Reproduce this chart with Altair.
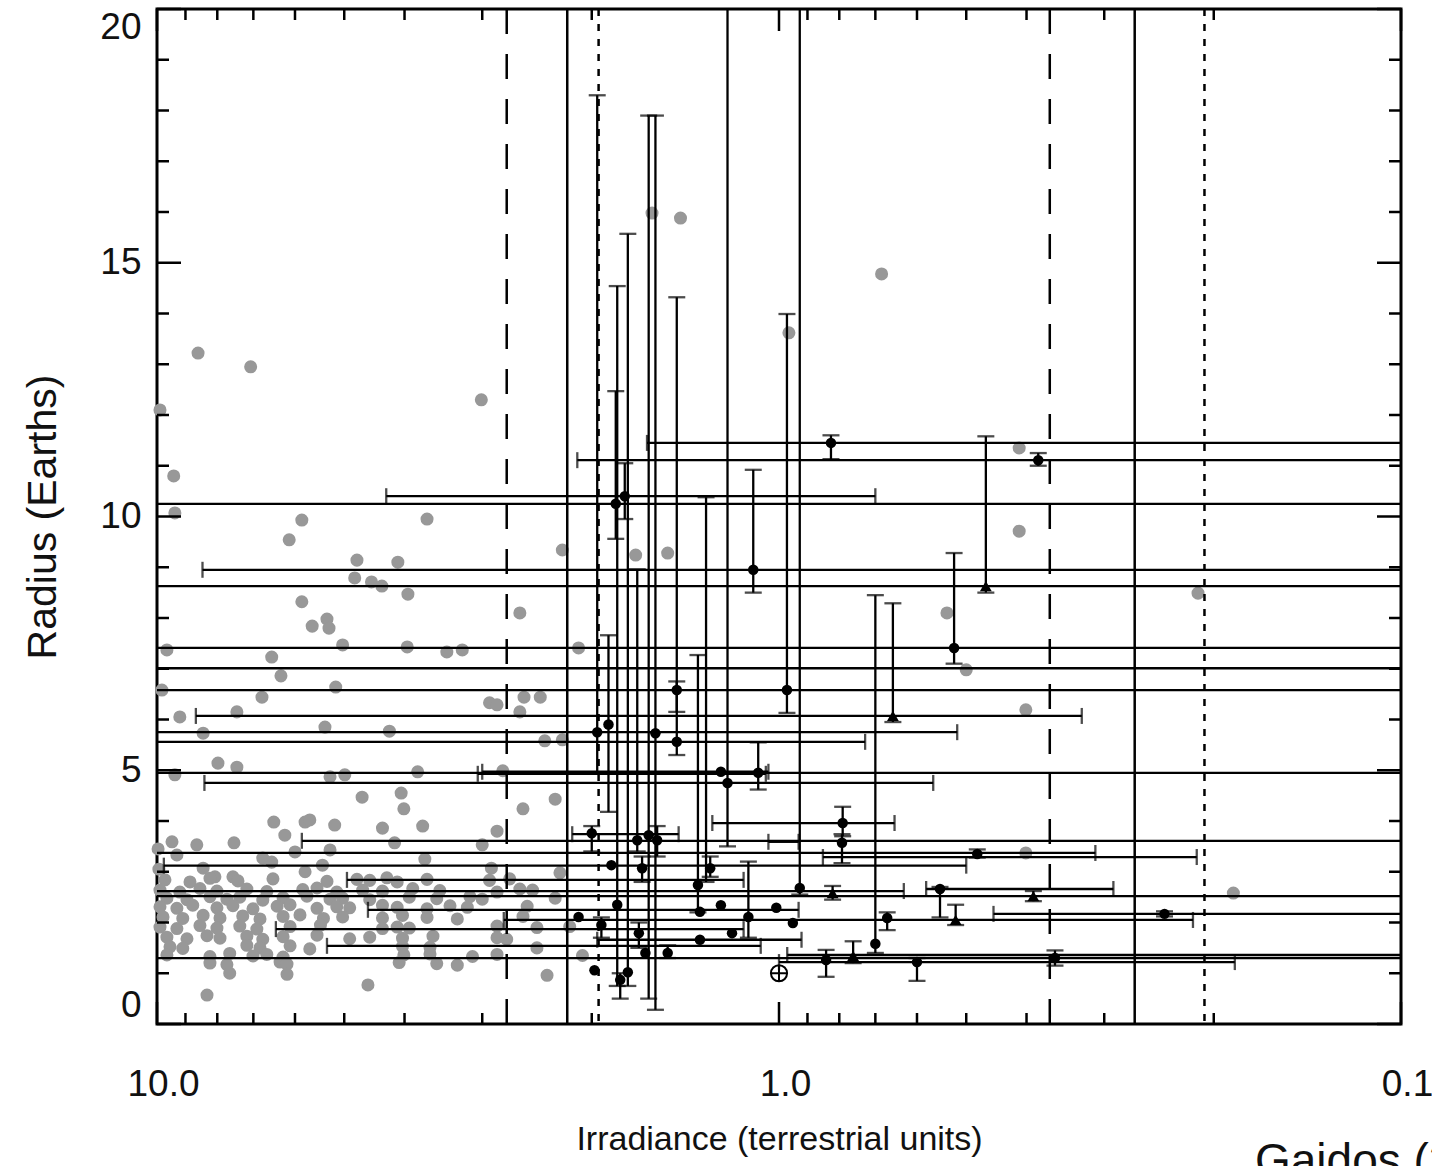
import altair as alt
import pandas as pd

# ---------------- data (irradiance in terrestrial units, radius in Earth radii) ----------------
gray_upper = [
    (9.89, 12.10), (9.40, 10.80), (9.36, 10.07), (8.59, 13.22), (7.07, 12.95), (3.01, 12.30),
    (5.85, 9.93), (3.68, 9.95), (6.13, 9.54), (4.77, 9.14), (4.10, 9.10), (4.81, 8.79),
    (4.52, 8.71), (4.35, 8.63), (3.95, 8.47), (5.85, 8.32), (2.61, 8.10), (5.63, 7.84),
    (5.33, 7.98), (5.29, 7.80), (5.03, 7.47), (3.96, 7.43), (3.23, 7.37), (9.64, 7.37),
    (2.10, 7.41), (2.23, 9.34), (1.70, 9.24), (1.51, 9.28), (0.964, 13.62), (1.60, 15.98),
    (1.44, 15.88), (0.684, 14.78), (0.411, 11.35), (0.411, 9.71), (0.537, 8.10), (0.212, 8.49),
    (0.500, 6.98), (0.401, 6.19), (0.186, 2.58), (0.401, 3.37), (9.82, 6.58), (9.19, 6.05),
    (8.43, 5.73), (7.44, 6.15), (6.78, 6.44), (6.32, 6.86), (6.54, 7.23), (5.16, 6.64),
    (5.37, 5.85), (4.23, 5.77), (7.98, 5.14), (7.44, 5.06), (9.36, 4.91), (5.27, 4.87),
    (4.99, 4.91), (3.81, 4.97), (3.42, 7.33), (2.92, 6.33), (2.84, 6.29), (2.57, 6.44),
    (2.42, 6.44), (2.23, 5.60), (2.38, 5.58), (2.78, 4.99), (2.61, 6.15),
]

gray_sparse_mid = [
    (4.68, 4.47), (4.05, 4.55), (4.01, 4.24), (6.49, 3.98), (5.78, 3.98), (5.68, 4.02),
    (5.18, 3.92), (6.23, 3.72), (4.34, 3.86), (3.74, 3.90), (2.58, 4.24), (2.29, 4.43),
    (2.84, 3.80), (9.46, 3.59), (8.63, 3.53), (7.52, 3.57), (4.15, 3.57), (3.00, 3.53),
    (9.29, 3.33), (6.00, 3.39), (5.27, 3.43), (3.71, 3.25), (6.76, 3.27), (6.54, 3.19),
    (8.43, 3.07), (8.07, 2.90), (7.55, 2.90), (5.78, 3.00), (5.42, 3.13), (2.90, 3.07),
    (2.25, 2.98), (9.96, 3.45), (9.93, 3.05),
]

gray_band_upper = [
    (9.71, 2.84), (8.85, 2.80), (8.22, 2.87), (7.41, 2.82), (6.51, 2.86), (5.33, 2.81),
    (4.77, 2.85), (4.55, 2.83), (4.27, 2.88), (4.11, 2.80), (3.68, 2.85), (2.92, 2.83), (2.71, 2.86),
    (9.89, 2.64), (9.19, 2.60), (8.53, 2.67), (8.01, 2.62), (7.17, 2.66), (6.66, 2.61),
    (5.83, 2.65), (5.53, 2.68), (5.14, 2.60), (4.67, 2.64), (4.34, 2.62), (3.88, 2.67),
    (3.51, 2.63), (2.84, 2.60), (2.61, 2.66), (2.49, 2.64),
    (9.64, 2.48), (8.95, 2.45), (8.22, 2.51), (7.72, 2.46), (7.36, 2.50), (6.76, 2.44),
    (6.27, 2.49), (5.74, 2.52), (5.27, 2.46), (5.03, 2.48), (4.55, 2.45), (3.93, 2.50),
    (3.55, 2.47), (3.14, 2.51), (3.00, 2.46), (2.29, 2.48),
]

gray_band_middle = [
    (9.89, 2.31), (9.29, 2.28), (8.76, 2.34), (8.01, 2.29), (7.55, 2.33), (7.01, 2.27),
    (6.41, 2.32), (6.11, 2.35), (5.53, 2.28), (5.14, 2.31), (4.90, 2.29), (4.34, 2.34),
    (4.11, 2.30), (3.68, 2.27), (3.38, 2.33), (3.17, 2.30), (2.54, 2.32),
    (9.78, 2.11), (9.09, 2.08), (8.43, 2.14), (7.92, 2.09), (7.28, 2.13), (6.83, 2.07),
    (6.27, 2.12), (5.89, 2.15), (5.40, 2.08), (5.03, 2.11), (4.34, 2.09), (4.03, 2.14),
    (3.68, 2.10), (3.29, 2.07), (2.58, 2.12),
    (9.89, 1.91), (9.29, 1.88), (8.53, 1.94), (8.01, 1.89), (7.36, 1.93), (6.91, 1.87),
    (6.11, 1.92), (5.46, 1.95), (4.34, 1.88), (4.11, 1.91), (3.93, 1.89), (2.84, 1.93),
    (2.45, 1.90), (2.17, 1.92),
]

gray_band_lower = [
    (9.64, 1.71), (8.95, 1.68), (8.31, 1.74), (7.92, 1.69), (7.17, 1.73), (6.76, 1.67),
    (6.27, 1.72), (5.53, 1.75), (4.90, 1.68), (4.55, 1.71), (4.03, 1.69), (3.60, 1.73),
    (2.84, 1.70), (2.74, 1.67),
    (9.53, 1.52), (9.09, 1.49), (7.17, 1.55), (6.83, 1.50), (6.11, 1.54), (5.68, 1.48),
    (4.03, 1.53), (3.64, 1.51), (2.45, 1.50),
    (9.64, 1.36), (8.22, 1.33), (7.64, 1.39), (7.01, 1.34), (6.66, 1.37), (6.27, 1.32),
    (4.01, 1.36), (3.64, 1.38), (3.11, 1.33), (2.84, 1.37), (2.07, 1.35),
    (8.22, 1.20), (7.72, 1.17), (6.34, 1.22), (6.18, 1.18), (4.08, 1.21), (3.55, 1.19), (3.29, 1.16),
    (7.64, 1.00), (6.18, 0.98), (2.36, 0.96), (8.31, 0.57), (4.58, 0.77),
]

# black points: (irradiance, radius)
kepler_circles = [
    (0.825, 11.45), (0.383, 11.11), (1.77, 10.40), (1.83, 10.25), (1.10, 8.95), (0.523, 7.41),
    (0.971, 6.58), (1.46, 6.58), (1.46, 5.56), (1.96, 5.75), (1.35, 2.74), (1.21, 4.75),
    (1.24, 4.97), (1.08, 4.95), (0.926, 2.68), (0.70, 1.58), (0.79, 3.96), (0.792, 3.57),
    (1.57, 3.62), (0.48, 3.35), (1.66, 3.07), (0.551, 2.66), (0.24, 2.17), (0.67, 2.09),
    (0.95, 1.99), (0.36, 1.30), (0.60, 1.22), (0.84, 1.26), (2.00, 3.76), (1.93, 1.95),
    (1.68, 1.79), (1.34, 1.66), (1.75, 1.02), (1.82, 2.35), (1.58, 5.73), (1.62, 3.72),
    (1.29, 3.07), (1.24, 2.34), (1.12, 2.11), (1.19, 1.79), (1.01, 2.29), (1.51, 1.40),
    (1.64, 1.40), (1.86, 3.13), (2.10, 2.11), (1.69, 3.62), (1.34, 2.21), (1.98, 1.06),
    (1.80, 0.87), (1.88, 5.90),
]
kepler_triangles = [
    (0.465, 8.63), (0.656, 6.07), (0.39, 2.52), (0.82, 2.58), (0.52, 2.05), (0.76, 1.34),
]

# horizontal error bars: (radius, irradiance upper end, irradiance lower end)
xerr_bars = [
    (11.45, 1.63, 0.05), (11.11, 2.11, 0.05), (10.40, 4.28, 0.70), (10.25, 20, 0.05),
    (8.95, 8.45, 0.05), (8.63, 20, 0.05), (7.41, 20, 0.05), (6.07, 8.66, 0.326),
    (6.58, 20, 0.05), (5.56, 20, 0.727), (5.75, 20, 0.517), (7.01, 20, 0.05),
    (2.62, 20, 0.63), (4.75, 8.39, 0.565), (4.97, 3.0, 1.04), (4.93, 3.05, 1.05),
    (4.95, 20, 0.05), (3.96, 1.28, 0.652), (3.59, 1.04, 0.93), (3.61, 5.85, 0.05),
    (3.74, 2.15, 1.45), (3.37, 20, 0.31), (3.29, 0.85, 0.213), (3.12, 9.75, 0.50),
    (2.84, 4.95, 1.14), (2.66, 0.58, 0.29), (2.52, 20, 0.05), (2.25, 4.58, 0.93),
    (2.17, 0.452, 0.05), (2.05, 2.77, 0.216), (1.30, 20, 0.05), (1.22, 1.0, 0.185),
    (1.36, 0.97, 0.05), (1.87, 6.44, 1.14), (1.54, 5.33, 1.07), (1.66, 1.96, 0.92),
]

# vertical error bars: (irradiance, radius low, radius high)
yerr_bars = [
    (0.825, 11.13, 11.60), (0.383, 11.0, 11.25), (1.77, 9.95, 11.05), (1.83, 9.56, 12.47),
    (1.10, 8.50, 10.92), (0.465, 8.50, 11.58), (0.523, 7.10, 9.28), (0.656, 5.95, 8.29),
    (0.971, 6.13, 13.99), (1.46, 6.15, 14.32), (1.46, 5.30, 6.75), (1.96, 4.95, 18.30),
    (1.31, 2.8, 10.38), (1.35, 2.2, 7.27), (1.21, 3.5, 25), (1.08, 4.62, 5.55),
    (0.926, 2.55, 25), (0.70, 1.40, 8.45), (0.79, 3.70, 4.28), (0.792, 3.17, 3.74),
    (1.57, 3.3, 3.9), (0.48, 3.28, 3.44), (1.66, 2.8, 3.3), (0.551, 2.1, 2.7),
    (0.39, 2.42, 2.62), (0.82, 2.45, 2.72), (0.24, 2.12, 2.22), (0.52, 1.95, 2.35),
    (0.67, 1.85, 2.2), (0.36, 1.15, 1.45), (0.60, 0.85, 1.30), (0.84, 0.93, 1.46),
    (0.76, 1.2, 1.63), (2.00, 3.4, 3.9), (1.93, 1.7, 2.1), (1.68, 1.5, 2.0),
    (1.75, 0.75, 15.57), (1.82, 0.75, 14.54), (1.58, 0.28, 17.9), (1.62, 0.5, 17.9),
    (1.29, 2.9, 3.3), (1.12, 1.7, 3.2), (1.51, 1.3, 1.55), (1.69, 3.4, 8.96),
    (1.80, 0.5, 1.0), (1.88, 4.18, 7.66),
]

earth = [(1.0, 1.0)]

# habitable-zone boundaries (irradiance)
hz_dashed = [2.74, 0.367]
hz_solid = [2.19, 0.268]
hz_dotted = [1.95, 0.207]

# axis ticks
x_major = [10, 1, 0.1]
x_minor = [9, 8, 7, 6, 5, 4, 3, 2, 0.9, 0.8, 0.7, 0.6, 0.5, 0.4, 0.3, 0.2]
y_major = [0, 5, 10, 15, 20]
y_minor = [1, 2, 3, 4, 6, 7, 8, 9, 11, 12, 13, 14, 16, 17, 18, 19]

source_note = "Gaidos (2013)"

# ---------------- chart ----------------
W, H = 1244, 1015
FONT = "Liberation Sans, Arial, Helvetica"

xs = alt.Scale(type="log", domain=[0.1, 10], reverse=True, nice=False)
ys = alt.Scale(domain=[0, 20], nice=False, zero=False)

x_axis = alt.Axis(values=x_major, format=".1f", ticks=False, domain=False, grid=False,
                  labelPadding=42, labelFontSize=37, labelFont=FONT, labelColor="#111",
                  labelOffset=6, labelFlush=False,
                  title="Irradiance (terrestrial units)", titleFont=FONT, titleFontSize=34,
                  titleFontWeight="normal", titlePadding=20, titleColor="#111")
y_axis = alt.Axis(values=y_major, format="d", ticks=False, domain=False, grid=False,
                  labelPadding=16, labelFontSize=37, labelFont=FONT, labelColor="#111",
                  labelFlush=True,
                  title="Radius (Earths)", titleFont=FONT, titleFontSize=41,
                  titleFontWeight="normal", titlePadding=35, titleColor="#111")


def X(field):
    return alt.X(f"{field}:Q", scale=xs, axis=x_axis)


def Y(field):
    return alt.Y(f"{field}:Q", scale=ys, axis=y_axis)


def pts(lst):
    return pd.DataFrame(lst, columns=["S", "R"])


gray_df = pts(gray_upper + gray_sparse_mid + gray_band_upper + gray_band_middle + gray_band_lower)
circ_df = pts(kepler_circles)
tri_df = pts(kepler_triangles)
xerr_df = pd.DataFrame(xerr_bars, columns=["R", "S1", "S2"])
yerr_df = pd.DataFrame(yerr_bars, columns=["S", "R1", "R2"])
xcap_df = pd.concat([xerr_df[["R", "S1"]].rename(columns={"S1": "S"}),
                     xerr_df[["R", "S2"]].rename(columns={"S2": "S"})])
ycap_df = pd.concat([yerr_df[["S", "R1"]].rename(columns={"R1": "R"}),
                     yerr_df[["S", "R2"]].rename(columns={"R2": "R"})])

gray = alt.Chart(gray_df).mark_circle(size=170, color="#989898", opacity=1).encode(x=X("S"), y=Y("R"))

hz_layers = []
for vals, dash in [(hz_dashed, [25, 20]), (hz_solid, [1, 0]), (hz_dotted, [7, 8])]:
    hz_layers.append(
        alt.Chart(pd.DataFrame({"S": vals})).mark_rule(color="black", strokeWidth=2.5, strokeDash=dash)
        .encode(x=X("S"))
    )

xbars = alt.Chart(xerr_df).mark_rule(color="black", strokeWidth=2.3, clip=True).encode(
    x=X("S1"), x2="S2", y=Y("R"))
ybars = alt.Chart(yerr_df).mark_rule(color="black", strokeWidth=2.3, clip=True).encode(
    x=X("S"), y=Y("R1"), y2="R2")
xcaps = alt.Chart(xcap_df).mark_tick(color="black", orient="vertical", size=16, thickness=2.3,
                                     clip=True).encode(x=X("S"), y=Y("R"))
ycaps = alt.Chart(ycap_df).mark_tick(color="black", orient="horizontal", size=17, thickness=2.3,
                                     clip=True).encode(x=X("S"), y=Y("R"))
circ = alt.Chart(circ_df).mark_point(shape="circle", filled=True, size=110, color="black",
                                     opacity=1).encode(x=X("S"), y=Y("R"))
tri = alt.Chart(tri_df).mark_point(shape="triangle-up", filled=True, size=140, color="black",
                                   opacity=1).encode(x=X("S"), y=Y("R"))
earth_ring = alt.Chart(pts(earth)).mark_point(shape="circle", filled=False, size=260, color="black",
                                              strokeWidth=2, opacity=1).encode(x=X("S"), y=Y("R"))
earth_cross = alt.Chart(pts(earth)).mark_point(shape="M-1,0L1,0M0,-1L0,1", filled=False, size=260,
                                               color="black", strokeWidth=2, opacity=1).encode(
    x=X("S"), y=Y("R"))

tick_layers = []
for vals, L in [(x_major, 22), (x_minor, 11)]:
    d = pd.DataFrame({"v": vals})
    tick_layers.append(alt.Chart(d).mark_rule(color="black", strokeWidth=2.5).encode(
        x=X("v"), y=alt.value(H), y2=alt.value(H - L)))
    tick_layers.append(alt.Chart(d).mark_rule(color="black", strokeWidth=2.5).encode(
        x=X("v"), y=alt.value(0), y2=alt.value(L)))
for vals, L in [(y_major, 24), (y_minor, 12)]:
    d = pd.DataFrame({"v": vals})
    tick_layers.append(alt.Chart(d).mark_rule(color="black", strokeWidth=2.5).encode(
        y=Y("v"), x=alt.value(0), x2=alt.value(L)))
    tick_layers.append(alt.Chart(d).mark_rule(color="black", strokeWidth=2.5).encode(
        y=Y("v"), x=alt.value(W), x2=alt.value(W - L)))

note = alt.Chart(pd.DataFrame({"t": [source_note]})).mark_text(
    align="left", baseline="alphabetic", fontSize=46, font="Liberation Sans", color="#111"
).encode(text="t:N", x=alt.value(1098), y=alt.value(1167))

chart = alt.layer(
    gray, *hz_layers, xbars, ybars, xcaps, ycaps, circ, tri, earth_ring, earth_cross, *tick_layers, note
).properties(
    width=W, height=H,
    autosize=alt.AutoSizeParams(type="none"),
    padding={"left": 157, "top": 9, "right": 31, "bottom": 142},
    background="white",
).configure_view(stroke="black", strokeWidth=3)

chart.save("out.html", embed_options={"renderer": "svg", "actions": False})
